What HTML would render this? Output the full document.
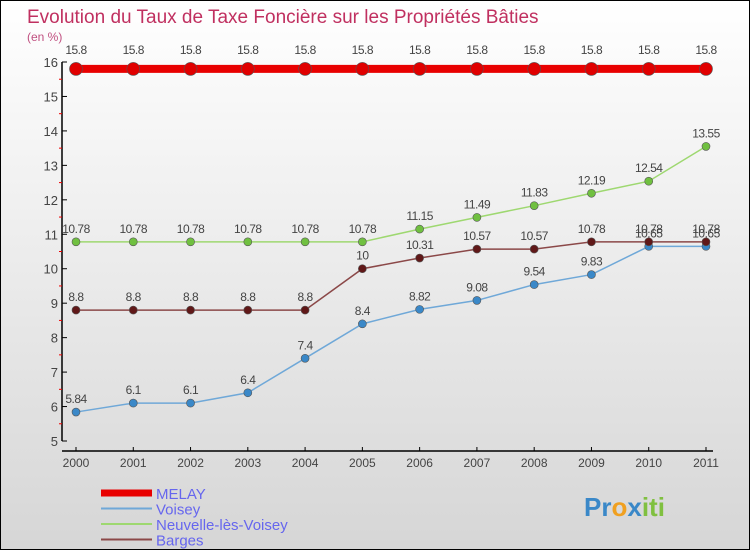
<!DOCTYPE html>
<html><head><meta charset="utf-8"><style>
body{margin:0}
#c{width:748px;height:548px;border:1px solid #000;background:linear-gradient(#fff,#d6d6d6);position:relative;overflow:hidden;font-family:"Liberation Sans",sans-serif}
</style></head><body>
<div id="c">
<svg id="s" width="748" height="548">
<text x="26" y="22" font-size="19" fill="#c03060">Evolution du Taux de Taxe Foncière sur les Propriétés Bâties</text>
<text x="26" y="40" font-size="12" fill="#c05080">(en %)</text>
</svg>
</div>
<script>
const years=["2000","2001","2002","2003","2004","2005","2006","2007","2008","2009","2010","2011"];
const melay=[15.8,15.8,15.8,15.8,15.8,15.8,15.8,15.8,15.8,15.8,15.8,15.8];
const voisey=[5.84,6.1,6.1,6.4,7.4,8.4,8.82,9.08,9.54,9.83,10.65,10.65];
const neuvelle=[10.78,10.78,10.78,10.78,10.78,10.78,11.15,11.49,11.83,12.19,12.54,13.55];
const barges=[8.8,8.8,8.8,8.8,8.8,10,10.31,10.57,10.57,10.78,10.78,10.78];
const yTicks=[5,6,7,8,9,10,11,12,13,14,15,16];
const NS="http://www.w3.org/2000/svg",s=document.getElementById('s');
const X=i=>75+i*(630/11), Y=v=>440-(v-5)*(379/11);
function mk(t,a,p){const e=document.createElementNS(NS,t);for(const k in a)e.setAttribute(k,a[k]);(p||s).appendChild(e);return e;}
// axes
let ax=mk('line',{x1:61,y1:61,x2:61,y2:440,stroke:'#000','stroke-width':1.5});


let xa=mk('line',{x1:61,y1:450,x2:712,y2:450,stroke:'#000','stroke-width':1.5});


yTicks.forEach(v=>{
 mk('line',{x1:61,y1:Y(v),x2:66,y2:Y(v),stroke:'#000'});
 if(v<16)mk('line',{x1:58,y1:Y(v+0.5),x2:61,y2:Y(v+0.5),stroke:'#e00'});
 const t=mk('text',{x:57,y:Y(v)+5,'text-anchor':'end','font-size':13,fill:'#444'});t.textContent=v;
 
 
});
years.forEach((y,i)=>{
 mk('line',{x1:X(i),y1:446,x2:X(i),y2:450,stroke:'#000'});
 const t=mk('text',{x:X(i),y:466,'text-anchor':'middle','font-size':12,fill:'#444'});t.textContent=y;
 
 
});
function series(d,col,dot,w,r,name,above){
 const g=mk('g',{});
 
 
 mk('polyline',{points:d.map((v,i)=>X(i)+','+Y(v)).join(' '),fill:'none',stroke:col,'stroke-width':w},g);
 d.forEach((v,i)=>{
  const c=mk('circle',{cx:X(i),cy:Y(v),r:r,fill:dot,stroke:'#555','stroke-width':0.6},g);
  
  
  const t=mk('text',{x:X(i),y:Y(v)-(above||9),'text-anchor':'middle','font-size':12,fill:'#444','letter-spacing':'-0.5'},g);t.textContent=v;
  
  
 });
}
series(voisey,'#6fa8d8','#3a88c8',1.5,4,'voisey');
series(barges,'#8b4848','#601818',1.5,4,'barges');
series(neuvelle,'#9ed870','#70c040',1.5,4,'neuvelle');
series(melay,'#e80000','#e00000',8,6.5,'melay',15);
// legend
const leg=[["MELAY","#e80000",7],["Voisey","#6fa8d8",2],["Neuvelle-lès-Voisey","#9ed870",2],["Barges","#8b4848",2]];
leg.forEach((l,i)=>{
 const y=492+i*15.5;
 const g=mk('g',{});
 
 
 mk('line',{x1:100,y1:y,x2:151,y2:y,stroke:l[1],'stroke-width':l[2]},g);
 const t=mk('text',{x:155,y:y+6,'font-size':15,fill:'#6666ee'},g);t.textContent=l[0];
});
const p=mk('text',{x:583,y:515,'font-size':26,'font-weight':'bold',fill:'#3a88c8'});
p.innerHTML='<tspan fill="#3a88c8">Pr</tspan><tspan fill="#f0a020">o</tspan><tspan fill="#3a88c8">x</tspan><tspan fill="#80c040">iti</tspan>';


</script>
</body></html>
